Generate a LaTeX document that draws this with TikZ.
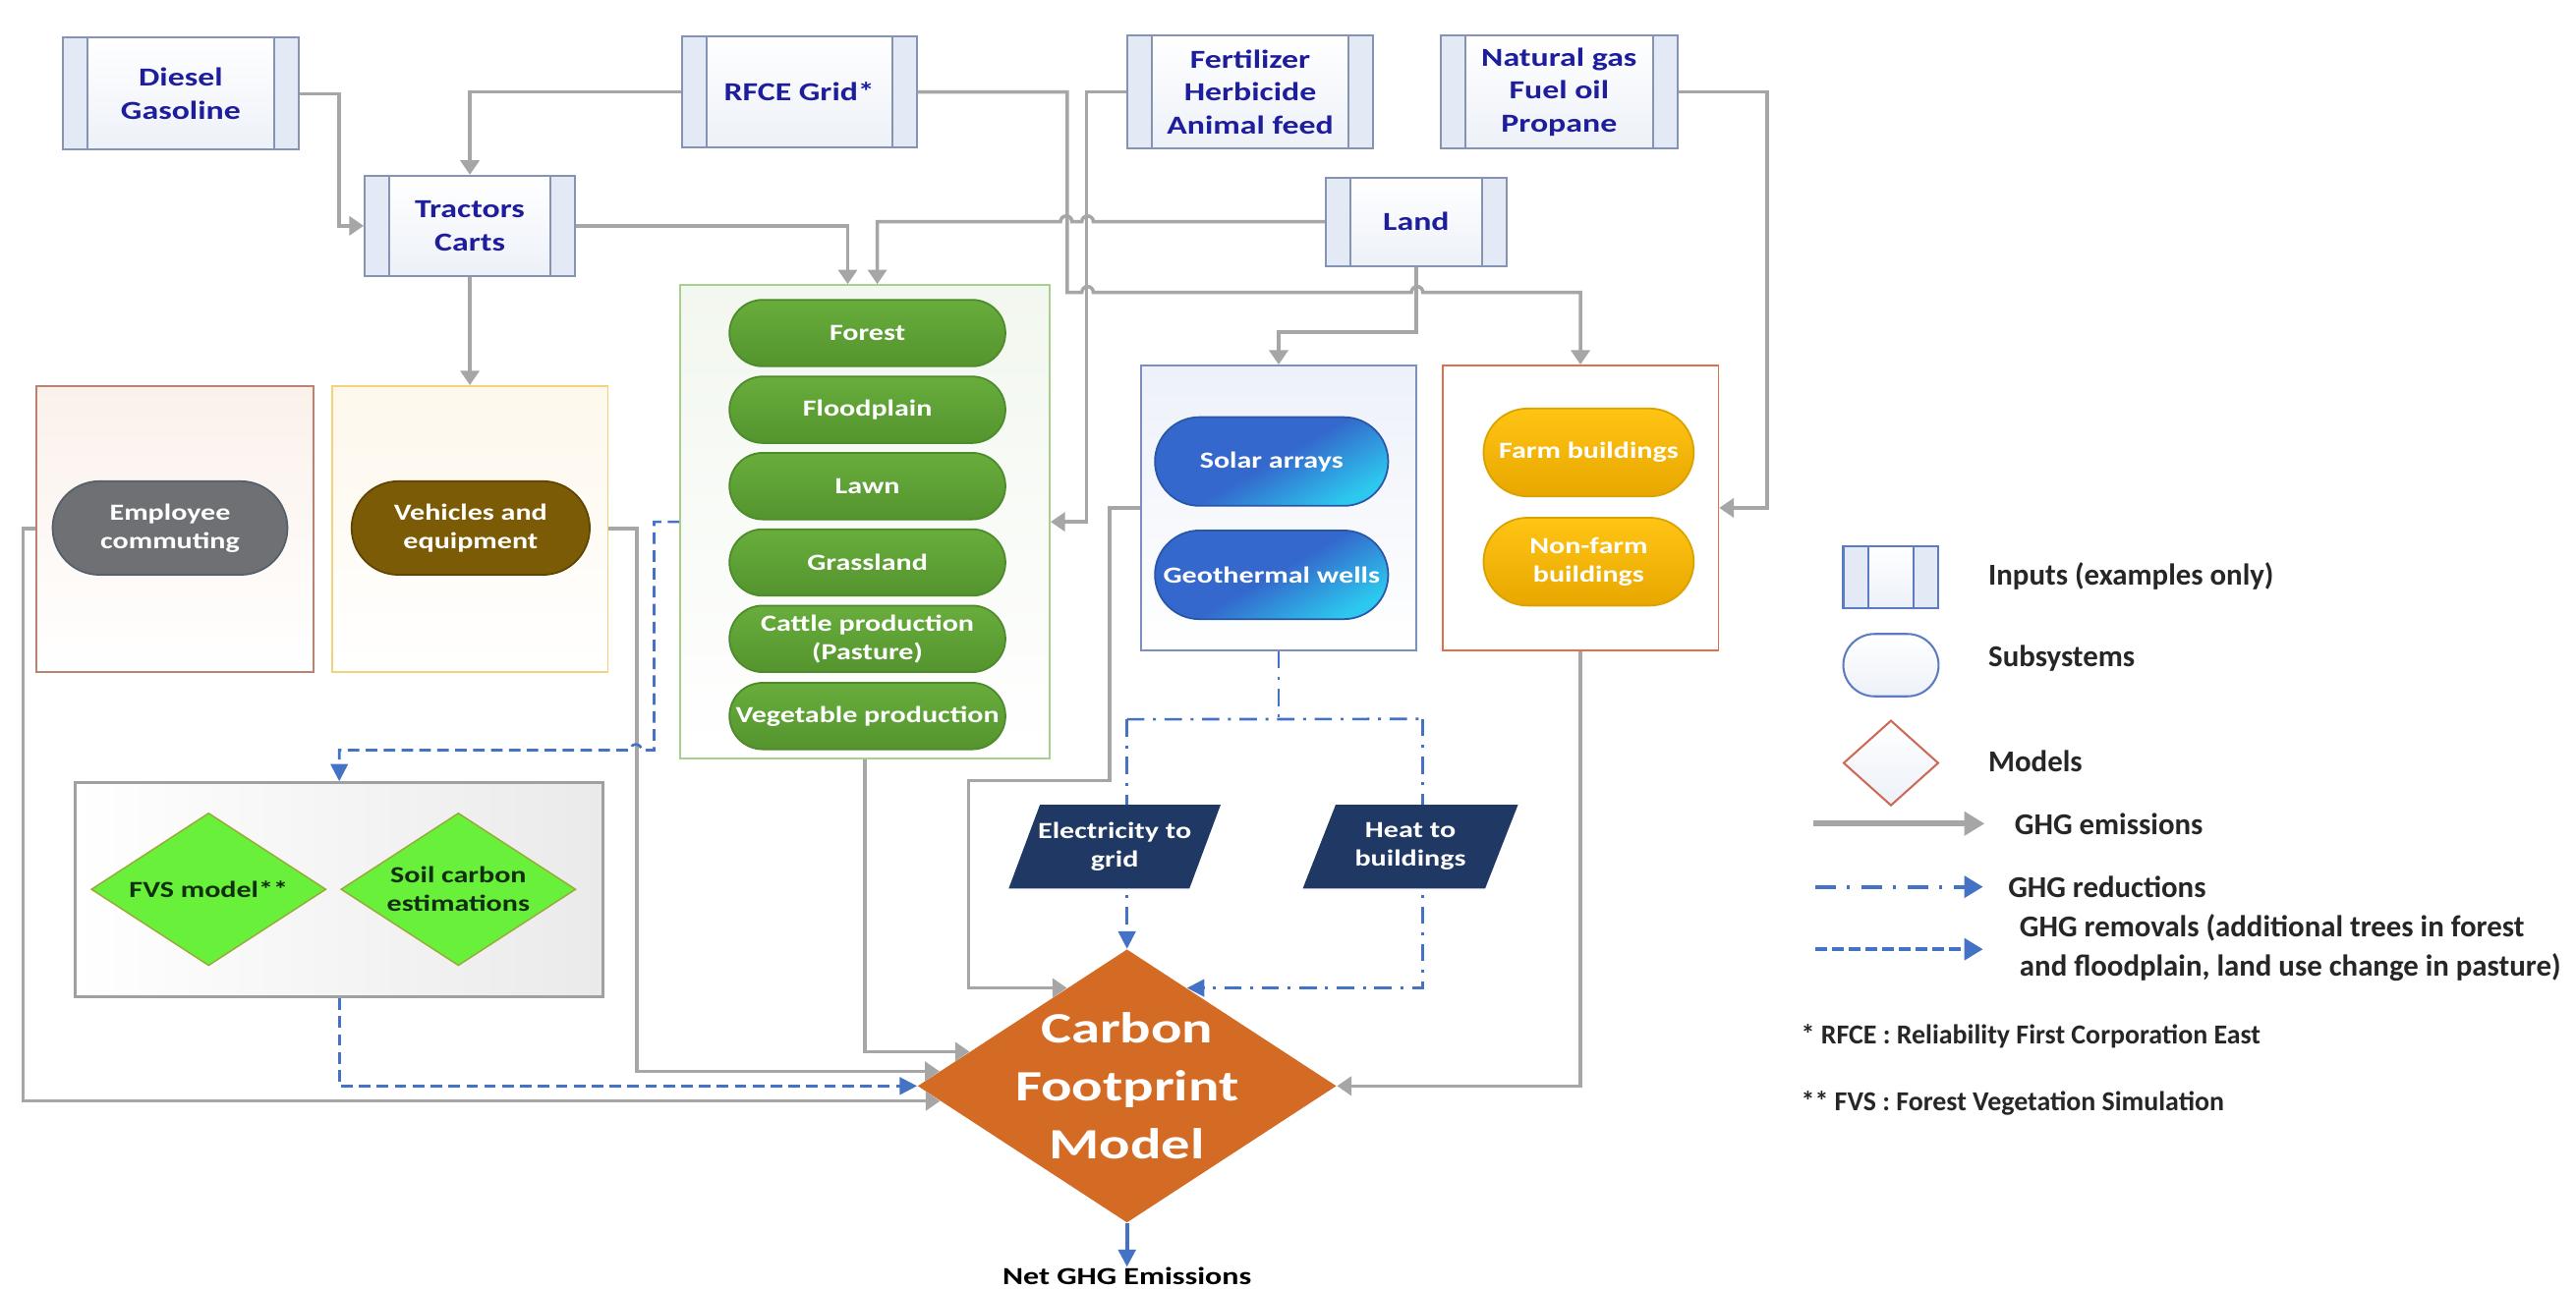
\documentclass[tikz,border=0pt]{standalone}
\usepackage{fontspec}
\setmainfont{Carlito}
\newfontfamily\dfont{Carlito}[FakeStretch=1.28]
\newfontfamily\cfont{Carlito}[FakeStretch=1.33]
\usetikzlibrary{shapes.geometric,shapes.misc,arrows.meta,calc}

\definecolor{conn}{HTML}{A6A6A6}
\definecolor{bluec}{HTML}{4472C4}
\definecolor{intext}{HTML}{1E1E9C}
\definecolor{inborder}{HTML}{8594B3}
\definecolor{instrip}{HTML}{E4EAF5}
\definecolor{inbot}{HTML}{EDF1F8}
\definecolor{cfmfill}{HTML}{D36B25}
\definecolor{navy}{HTML}{1F3864}
\definecolor{legtext}{HTML}{262626}
\definecolor{legblue}{HTML}{5B7BC2}
\definecolor{legred}{HTML}{CC6A55}
\definecolor{empb}{HTML}{B98374}
\definecolor{empf}{HTML}{FBF1EB}
\definecolor{vehb}{HTML}{F2D27A}
\definecolor{vehf}{HTML}{FEF8EC}
\definecolor{grnb}{HTML}{A8CF8E}
\definecolor{grnf}{HTML}{F2F7EF}
\definecolor{solb}{HTML}{7C90C0}
\definecolor{solf}{HTML}{EDF1F9}
\definecolor{farmb}{HTML}{E06F4C}
\definecolor{fvsb}{HTML}{A0A0A0}
\definecolor{fvsf}{HTML}{EAEAEA}
\definecolor{ga}{HTML}{68AD3C}
\definecolor{gb}{HTML}{54942E}
\definecolor{gc}{HTML}{4D8A2B}
\definecolor{sa}{HTML}{3468CC}
\definecolor{sb}{HTML}{2CC8EE}
\definecolor{sc}{HTML}{2A56A8}
\definecolor{fa}{HTML}{FFC414}
\definecolor{fb}{HTML}{E8A700}
\definecolor{fc}{HTML}{D9A200}
\definecolor{empp}{HTML}{6E7074}
\definecolor{emppb}{HTML}{55606A}
\definecolor{vehp}{HTML}{7B5B05}
\definecolor{vehpb}{HTML}{5F4503}
\definecolor{fvsg}{HTML}{68F03A}
\definecolor{fvsgb}{HTML}{9AAA3A}
\definecolor{fvstext}{HTML}{102E10}

\begin{document}
\begin{tikzpicture}[x=0.02cm,y=-0.02cm,
  inbox/.style={rectangle, draw=#1, line width=0.7pt, top color=white, bottom color=inbot,
    inner sep=0pt, align=center, text=intext, font=\dfont\fontsize{9pt}{11.4pt}\selectfont\bfseries,
    path picture={
      \fill[instrip] (path picture bounding box.north west) rectangle ([xshift=0.3cm]path picture bounding box.south west);
      \fill[instrip] (path picture bounding box.north east) rectangle ([xshift=-0.3cm]path picture bounding box.south east);
      \draw[#1, line width=0.7pt] ([xshift=0.3cm]path picture bounding box.north west) -- ([xshift=0.3cm]path picture bounding box.south west)
        ([xshift=-0.3cm]path picture bounding box.north east) -- ([xshift=-0.3cm]path picture bounding box.south east);}},
  inbox/.default=inborder,
  cont/.style={rectangle, inner sep=0pt, line width=0.6pt},
  pill/.style={rounded rectangle, inner sep=0pt, align=center, text=white, line width=0.6pt,
    font=\dfont\fontsize{8pt}{9.8pt}\selectfont\bfseries},
  gpill/.style={pill, top color=ga, bottom color=gb, draw=gc, minimum width=3.36cm, minimum height=0.81cm},
  spill/.style={pill, top color=sa, bottom color=sb, middle color=sa, shading angle=30, draw=sc, minimum width=2.84cm, minimum height=1.08cm},
  fpill/.style={pill, top color=fa, bottom color=fb, draw=fc, minimum width=2.56cm, minimum height=1.07cm},
  model/.style={diamond, aspect=1.54, inner sep=0pt, minimum width=2.86cm, minimum height=1.86cm,
    fill=fvsg, draw=fvsgb, line width=0.5pt, align=center, text=fvstext,
    font=\dfont\fontsize{8pt}{9.8pt}\selectfont\bfseries},
  paratext/.style={inner sep=0pt, align=center, text=white, font=\dfont\fontsize{8pt}{9.8pt}\selectfont\bfseries},
  gline/.style={draw=conn, line width=1.2pt},
  garrow/.style={gline, -{Triangle[width=6.5pt,length=5pt]}},
  bdash/.style={draw=bluec, line width=0.9pt, dash pattern=on 4pt off 2.2pt},
  bdd/.style={draw=bluec, line width=0.9pt, dash pattern=on 6pt off 3pt on 1pt off 3pt},
  barrow/.style={-{Triangle[width=6pt,length=6pt]}},
  legtxt/.style={inner sep=0pt, anchor=west, text=legtext, align=left, font=\fontsize{10.5pt}{13.5pt}\selectfont\bfseries},
  legsmall/.style={legtxt, font=\fontsize{9.5pt}{11.5pt}\selectfont\bfseries}
]
\fill[white] (0,0) rectangle (1568,785);
\useasboundingbox (0,0) rectangle (1568,785);

% ---------- containers ----------
\node[cont, draw=empb, top color=empf, bottom color=white, minimum width=3.38cm, minimum height=3.48cm] (empbox) at (106.5,322) {};
\node[cont, draw=vehb, top color=vehf, bottom color=white, minimum width=3.36cm, minimum height=3.48cm] (vehbox) at (286,322) {};
\node[cont, draw=grnb, top color=grnf, bottom color=white, minimum width=4.5cm, minimum height=5.77cm] (greenbox) at (526.5,317.75) {};
\node[cont, draw=solb, top color=solf, bottom color=white, minimum width=3.35cm, minimum height=3.47cm] (solarbox) at (778.3,309.25) {};
\node[cont, draw=farmb, fill=white, minimum width=3.36cm, minimum height=3.47cm] (farmbox) at (962,309.25) {};
\node[cont, draw=fvsb, line width=1pt, left color=white, right color=fvsf, minimum width=6.42cm, minimum height=2.61cm] (fvsbox) at (206.5,541.8) {};

% ---------- inputs ----------
\node[inbox, minimum width=2.87cm, minimum height=1.36cm] (diesel) at (110,57) {Diesel\\Gasoline};
\node[inbox, minimum width=2.86cm, minimum height=1.36cm] (rfce) at (486.5,56) {RFCE Grid*};
\node[inbox, minimum width=3.0cm, minimum height=1.38cm] (fert) at (761,56) {Fertilizer\\Herbicide\\Animal feed};
\node[inbox, minimum width=2.88cm, minimum height=1.38cm] (natgas) at (949,56) {Natural gas\\Fuel oil\\Propane};
\node[inbox, minimum width=2.56cm, minimum height=1.22cm] (tractors) at (286,137.5) {Tractors\\Carts};
\node[inbox, minimum width=2.2cm, minimum height=1.08cm] (land) at (862,135) {Land};

% ---------- subsystems ----------
\node[pill, fill=empp, draw=emppb, minimum width=2.86cm, minimum height=1.14cm] (emp) at (103.5,321.5) {Employee\\commuting};
\node[pill, fill=vehp, draw=vehpb, minimum width=2.9cm, minimum height=1.14cm] (veh) at (286.5,321.5) {Vehicles and\\equipment};
\node[gpill] (forest) at (528,202.8) {Forest};
\node[gpill] (flood) at (528,249.5) {Floodplain};
\node[gpill] (lawn) at (528,296) {Lawn};
\node[gpill] (grass) at (528,342.5) {Grassland};
\node[gpill] (cattle) at (528,389) {Cattle production\\(Pasture)};
\node[gpill] (veg) at (528,436) {Vegetable production};
\node[spill] (solar) at (774,281) {Solar arrays};
\node[spill] (geo) at (774,350) {Geothermal wells};
\node[fpill] (farm) at (967,275.5) {Farm buildings};
\node[fpill] (nonfarm) at (967,342) {Non-farm\\buildings};

% ---------- models ----------
\node[model] (fvs) at (127,541.5) {FVS model**};
\node[model] (soil) at (279,541.5) {Soil carbon\\estimations};
\node[diamond, aspect=1.52, inner sep=0pt, minimum width=5.1cm, minimum height=3.33cm, fill=cfmfill] (cfm) at (686,661.25) {};
\node[inner sep=0pt, align=center, text=white, font=\cfont\fontsize{15pt}{20pt}\selectfont\bfseries] (cfmtext) at (cfm.center) {Carbon\\Footprint\\Model};
\node[inner sep=0pt, text=black, font=\dfont\fontsize{8.5pt}{10pt}\selectfont\bfseries] (net) at (686,777) {Net GHG Emissions};

% ---------- points on the model border ----------
\coordinate (e1) at ($(cfm.west)!0.25!(cfm.north)$);
\coordinate (e2) at ($(cfm.west)!0.107!(cfm.north)$);
\coordinate (e4) at ($(cfm.west)!0.11!(cfm.south)$);
\coordinate (e5) at ($(cfm.west)!0.714!(cfm.north)$);
\coordinate (e6) at ($(cfm.east)!0.714!(cfm.north)$);

% ---------- GHG emission connectors ----------
\draw[garrow] (diesel.east) -- ++(24,0) |- (tractors.west);
\draw[garrow] (rfce.west) -| (tractors.north);
\draw[garrow] (rfce.east) -- ++(91,0) -- ++(0,122) -- (658.5,178)
  arc[start angle=180,end angle=0,radius=0.07cm] -- (859.1,178)
  arc[start angle=180,end angle=0,radius=0.07cm] -| (farmbox.north);
\draw[garrow] (fert.west) -- ++(-24,0) |- (greenbox.east);
\draw[garrow] (land.west) -- (665.5,135) arc[start angle=0,end angle=180,radius=0.07cm]
  -- (652.5,135) arc[start angle=0,end angle=180,radius=0.07cm] -| ([xshift=0.15cm]greenbox.north);
\draw[garrow] (tractors.east) -| ([xshift=-0.21cm]greenbox.north);
\draw[garrow] (natgas.east) -- ++(54,0) |- (farmbox.east);
\draw[garrow] (land.south) -- ++(0,39.5) -| (solarbox.north);
\draw[garrow] (tractors.south) -- (vehbox.north);
\draw[garrow] (empbox.west) -- ++(-7.5,0) |- (e4);
\draw[garrow] (vehbox.east) -- ++(17,0) |- (e2);
\draw[garrow] (greenbox.south) |- (e1);
\draw[garrow] (solarbox.west) -- ++(-18.6,0) -- ++(0,166) -- ++(-86,0) |- (e5);
\draw[garrow] (farmbox.south) |- (cfm.east);

% ---------- GHG removals ----------
\draw[bdash, barrow] (greenbox.west) -- ++(-15.4,0) -- ++(0,139) -- (390.5,456.75)
  arc[start angle=0,end angle=180,radius=0.07cm] -| (fvsbox.north);
\draw[bdash, barrow] (fvsbox.south) |- (cfm.west);

% ---------- GHG reductions ----------
\draw[bdd] (solarbox.south) -- ++(0,41.5) coordinate (dd);
\coordinate (ddl) at (cfm.north |- dd);
\coordinate (ddr) at (866,437.75);
\draw[bdd] (ddl) -- (ddr);
\draw[bdd, barrow] (ddl) -- (cfm.north);
\draw[bdd, barrow] (ddr) |- (e6);
\draw[draw=bluec, line width=1.3pt, barrow] (cfm.south) -- (net.north);

% ---------- outputs ----------
\fill[navy] (614,541) -- (633,490) -- (743,490) -- (724,541) -- cycle;
\node[paratext] (elec) at (678.5,515.5) {Electricity to\\grid};
\fill[navy] (793,541) -- (813,490) -- (924,490) -- (904,541) -- cycle;
\node[paratext] (heat) at (858.5,515.5) {Heat to\\buildings};

% ---------- legend ----------
\node[inbox=legblue, minimum width=1.16cm, minimum height=0.76cm] (leginput) at (1151,351.5) {};
\node[rounded rectangle, draw=legblue, line width=0.7pt, top color=white, bottom color=inbot, minimum width=1.16cm, minimum height=0.76cm, inner sep=0pt] (legpill) at (1151,405) {};
\node[diamond, aspect=1.1, draw=legred, line width=0.7pt, top color=white, bottom color=inbot, minimum width=1.16cm, minimum height=1.04cm, inner sep=0pt] (legmodel) at (1151,464.6) {};
\coordinate (la) at (1104,501.5); \coordinate (lb) at (1208,501.5);
\draw[draw=conn, line width=2pt, -{Triangle[width=8pt,length=7pt]}] (la) -- (lb);
\coordinate (lc) at (1105,540); \coordinate (ld) at (1207,540);
\draw[draw=bluec, line width=1.3pt, dash pattern=on 7pt off 4pt on 1pt off 4pt, -{Triangle[width=7.5pt,length=6.5pt]}] (lc) -- (ld);
\coordinate (le) at (1105,578); \coordinate (lf) at (1207,578);
\draw[draw=bluec, line width=1.3pt, dash pattern=on 4pt off 1.8pt, -{Triangle[width=7.5pt,length=6.5pt]}] (le) -- (lf);

\node[legtxt] (lt1) at (1210,351) {Inputs (examples only)};
\node[legtxt] (lt2) at (1210,401) {Subsystems};
\node[legtxt] (lt3) at (1210,463.6) {Models};
\node[legtxt] (lt4) at (1226,501.5) {GHG emissions};
\node[legtxt] (lt5) at (1222,540) {GHG reductions};
\node[legtxt] (lt6) at (1229,577) {GHG removals (additional trees in forest\\and floodplain, land use change in pasture)};
\node[legsmall] (lt7) at (1096,631) {* RFCE : Reliability First Corporation East};
\node[legsmall] (lt8) at (1096,672) {** FVS : Forest Vegetation Simulation};
\end{tikzpicture}
\end{document}
